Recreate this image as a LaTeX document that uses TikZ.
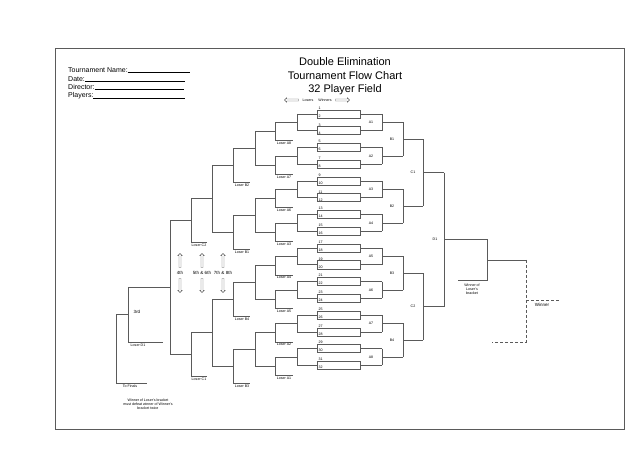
\documentclass[tikz,border=0pt]{standalone}
\usepackage{fontspec}
\setmainfont{Liberation Sans}
\usetikzlibrary{shapes.arrows}
\definecolor{lnGray}{RGB}{90,90,90}

\begin{document}
\begin{tikzpicture}[x=1pt,y=-1pt,
  br/.style={draw=lnGray,line width=0.5pt},
  tiny/.style={font=\fontsize{3.6}{4}\selectfont,inner sep=0.5pt},
  hdr/.style={font=\fontsize{7}{8}\selectfont,anchor=west,inner sep=0pt},
  ttl/.style={font=\fontsize{11}{13}\selectfont,inner sep=0pt},
  oarr/.style={single arrow,draw=lnGray,line width=0.4pt,minimum width=4.5pt,
    single arrow head extend=1pt,single arrow head indent=0pt,inner sep=0.6pt,
    minimum height=14pt}]
  \useasboundingbox (0,0) rectangle (640,465);
  \draw[br] (55,48) rectangle (624,429);

  % header
  \node[hdr] (tname) at (68,70) {Tournament Name:\rule{62pt}{0.3pt}};
  \node[hdr] (tdate) at (68,79) {Date:\rule{100pt}{0.3pt}};
  \node[hdr] (tdir)  at (68,87) {Director:\rule{89pt}{0.3pt}};
  \node[hdr] (tply)  at (68,96) {Players:\rule{92pt}{0.3pt}};
  \node[ttl] (t1) at (345,62) {Double Elimination};
  \node[ttl] (t2) at (345,76) {Tournament Flow Chart};
  \node[ttl] (t3) at (345,90) {32 Player Field};
  \node[oarr,shape border rotate=180] (lsa) at (292,100) {};
  \node[oarr] (wna) at (342,100) {};
  \node[tiny] (lsl) at (308,100) {Losers};
  \node[tiny] (wnl) at (325,100) {Winners};

  % winners side: first round boxes
  \foreach \i in {1,...,16}{
    \pgfmathsetmacro\m{114+(\i-1)*16.75}
    \pgfmathtruncatemacro\p{2*\i-1}
    \pgfmathtruncatemacro\q{2*\i}
    \draw[br] (317,\m-4) rectangle (360,\m+4);
    \node[tiny,anchor=south west] (s\p) at (318,\m-4) {\p};
    \node[tiny,anchor=south west] (s\q) at (318,\m+4) {\q};
    \draw[br] (360,\m) -- (382,\m) (317,\m) -- (297,\m);
  }
  \foreach \k in {1,...,8}{
    \pgfmathsetmacro\ya{114+(2*\k-2)*16.75}
    \pgfmathsetmacro\yb{114+(2*\k-1)*16.75}
    \draw[br] (382,\ya) -- (382,\yb) (382,{(\ya+\yb)/2}) -- (403,{(\ya+\yb)/2});
    \node[tiny] (wa\k) at (371,{(\ya+\yb)/2}) {A\k};
  }
  \foreach \k in {1,...,4}{
    \pgfmathsetmacro\ya{114+(4*\k-3.5)*16.75}
    \pgfmathsetmacro\yb{114+(4*\k-1.5)*16.75}
    \draw[br] (403,\ya) -- (403,\yb) (403,{(\ya+\yb)/2}) -- (423,{(\ya+\yb)/2});
    \node[tiny] (wb\k) at (392,{(\ya+\yb)/2}) {B\k};
  }
  \foreach \k in {1,2}{
    \pgfmathsetmacro\ya{114+(8*\k-6.5)*16.75}
    \pgfmathsetmacro\yb{114+(8*\k-2.5)*16.75}
    \draw[br] (423,\ya) -- (423,\yb) (423,{(\ya+\yb)/2}) -- (444,{(\ya+\yb)/2});
    \node[tiny] (wc\k) at (413,{(\ya+\yb)/2}) {C\k};
  }
  \coordinate (dA) at (444,172.6); \coordinate (dB) at (444,306.6);
  \coordinate (dM) at (444,239.6); \coordinate (fA) at (487,239.6);
  \coordinate (fB) at (487,280);   \coordinate (fC) at (458,280);
  \coordinate (fM) at (487,259.8); \coordinate (wO) at (526,259.8);
  \coordinate (wD) at (526,342);   \coordinate (wE) at (492,342);
  \coordinate (wN) at (526,300);   \coordinate (wR) at (560,300);
  \draw[br] (dA) -- (dB) (dM) -- (fA) -- (fB) -- (fC) (fM) -- (wO);
  \node[tiny] (wd1) at (435,239.6) {D1};
  \node[tiny,align=center,anchor=north] (wlb) at (472,283) {Winner of\\Loser's\\bracket};
  \draw[br,densely dashed] (wO) -- (wD) -- (wE) (wN) -- (wR);
  \node[tiny,font=\fontsize{4.5}{5}\selectfont] (win) at (542,305) {Winner};

  % losers side
  \foreach \g/\lab in {1/A8,2/A7,3/A6,4/A3,5/A4,6/A5,7/A2,8/A1}{
    \pgfmathsetmacro\ya{114+(2*\g-2)*16.75}
    \pgfmathsetmacro\yb{114+(2*\g-1)*16.75}
    \pgfmathsetmacro\yp{(\ya+\yb)/2}
    \pgfmathsetmacro\yq{\yb+10}
    \draw[br] (297,\ya) -- (297,\yb) (297,\yp) -- (275,\yp) -- (275,\yq) -- (293,\yq)
      (275,{(\yp+\yq)/2}) -- (255,{(\yp+\yq)/2});
    \node[tiny,anchor=north] (l\lab) at (284,\yq+1) {Loser \lab};
  }
  \foreach \h/\lab in {1/B2,2/B1,3/B4,4/B3}{
    \pgfmathsetmacro\ya{119+(4*\h-3.25)*16.75}
    \pgfmathsetmacro\yb{119+(4*\h-1.25)*16.75}
    \pgfmathsetmacro\yp{(\ya+\yb)/2}
    \pgfmathsetmacro\yq{\yb+17}
    \draw[br] (255,\ya) -- (255,\yb) (255,\yp) -- (233,\yp) -- (233,\yq) -- (250,\yq)
      (233,{(\yp+\yq)/2}) -- (212,{(\yp+\yq)/2});
    \node[tiny,anchor=north] (l\lab) at (242,\yq+1) {Loser \lab};
  }
  \foreach \k/\lab in {1/C2,2/C1}{
    \pgfmathsetmacro\ya{127.5+(8*\k-5.75)*16.75}
    \pgfmathsetmacro\yb{127.5+(8*\k-1.75)*16.75}
    \pgfmathsetmacro\yp{(\ya+\yb)/2}
    \pgfmathsetmacro\yq{\yb+10}
    \draw[br] (212,\ya) -- (212,\yb) (212,\yp) -- (191,\yp) -- (191,\yq) -- (207,\yq)
      (191,{(\yp+\yq)/2}) -- (170,{(\yp+\yq)/2});
    \node[tiny,anchor=north] (l\lab) at (199,\yq+1) {Loser \lab};
  }
  \coordinate (eA) at (170,220.4); \coordinate (eB) at (170,354.4);
  \coordinate (eM) at (170,287.4); \coordinate (gA) at (128,287.4);
  \coordinate (gB) at (128,342);   \coordinate (gC) at (163,342);
  \coordinate (gM) at (128,314.7); \coordinate (hA) at (116,314.7);
  \coordinate (hB) at (116,383);   \coordinate (hC) at (147,383);
  \draw[br] (eA) -- (eB) (eM) -- (gA) -- (gB) -- (gC) (gM) -- (hA) -- (hB) -- (hC);
  \node[tiny,font=\fontsize{4.5}{5}\selectfont] (third) at (137,312) {3rd};
  \node[tiny,anchor=north] (lD1) at (138,343) {Loser D1};
  \node[tiny,anchor=north] (fin) at (130,384) {To Finals};
  \node[tiny,align=center] (note) at (148,404) {Winner of Loser's bracket\\must defeat winner of Winner's\\bracket twice};

  % place arrows
  \foreach \x/\lab/\n in {180/4th/pa,202/5th \& 6th/pb,223/7th \& 8th/pc}{
    \node[oarr,shape border rotate=90] (\n u) at (\x,261) {};
    \node[oarr,shape border rotate=270] (\n d) at (\x,285) {};
    \node[tiny,font=\fontsize{4.5}{5}\selectfont] (\n) at (\x,272.5) {\lab};
  }
\end{tikzpicture}
\end{document}
